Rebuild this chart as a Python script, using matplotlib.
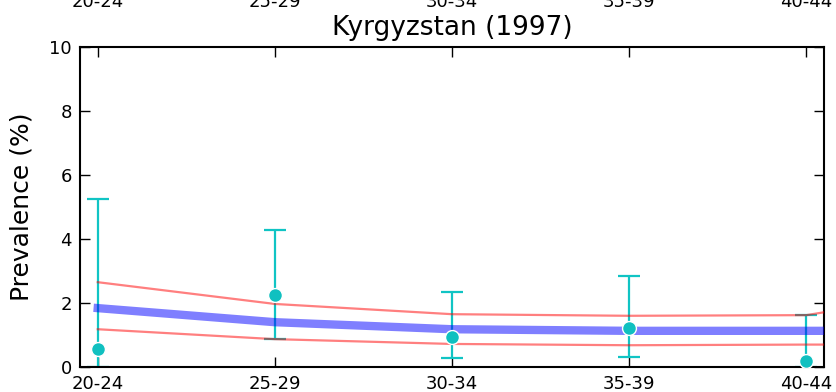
# Kyrgyzstan (1997) prevalence by age group: data points with error bars + model fit band

import matplotlib.pyplot as plt
import matplotlib.transforms as mtransforms

age_groups = ["20-24", "25-29", "30-34", "35-39", "40-44"]
age_start = [20, 25, 30, 35, 40]

# observed prevalence (%) and confidence limits
obs = [0.55, 2.25, 0.95, 1.22, 0.20]
obs_lo = [0.0, 0.87, 0.27, 0.30, 0.0]
obs_hi = [5.25, 4.28, 2.35, 2.85, 1.62]

# model fit: mean and uncertainty bounds
model_age = [20, 25, 30, 35, 40, 41]
model_mean = [1.84, 1.40, 1.18, 1.13, 1.13, 1.13]
model_lo = [1.18, 0.87, 0.72, 0.68, 0.70, 0.70]
model_hi = [2.65, 1.97, 1.65, 1.60, 1.62, 1.80]

fig = plt.figure(figsize=(8.37, 3.92), dpi=100)
ax = fig.add_axes([0.0956, 0.0638, 0.8889, 0.8163])

err = [[o - l for o, l in zip(obs, obs_lo)], [h - o for o, h in zip(obs, obs_hi)]]
ax.errorbar(age_start, obs, yerr=err, fmt="none", ecolor="#10c4c4",
            elinewidth=1.6, capsize=8, capthick=1.6, zorder=2)

ax.plot(model_age, model_mean, color="blue", alpha=0.5, lw=6, zorder=3)
ax.plot(model_age, model_lo, color="red", alpha=0.5, lw=1.6, zorder=3)
ax.plot(model_age, model_hi, color="red", alpha=0.5, lw=1.6, zorder=3)

ax.plot(age_start, obs, "o", color="#10c0c0", ms=10, mec="white", mew=1, zorder=4)

ax.set_xlim(19.5, 40.5)
ax.set_ylim(0, 10)
ax.set_xticks(age_start)
ax.set_xticklabels(age_groups)
ax.set_yticks([0, 2, 4, 6, 8, 10])
ax.tick_params(direction="in", length=7, width=1, labelsize=13,
               top=True, right=True, pad=6)
ax.tick_params(axis="x", labeltop=True)
for s in ax.spines.values():
    s.set_linewidth(1.5)

ax.set_ylabel("Prevalence (%)", fontsize=18, labelpad=11)
ax.set_title("Kyrgyzstan (1997)", fontsize=19, y=1.0, pad=9)

# top tick labels sit above the title, mostly cut off by the figure edge
offset = mtransforms.ScaledTranslation(0, 0.28, fig.dpi_scale_trans)
for t in ax.xaxis.get_major_ticks():
    t.label2.set_transform(t.label2.get_transform() + offset)

fig.savefig("out.png", dpi=100)
